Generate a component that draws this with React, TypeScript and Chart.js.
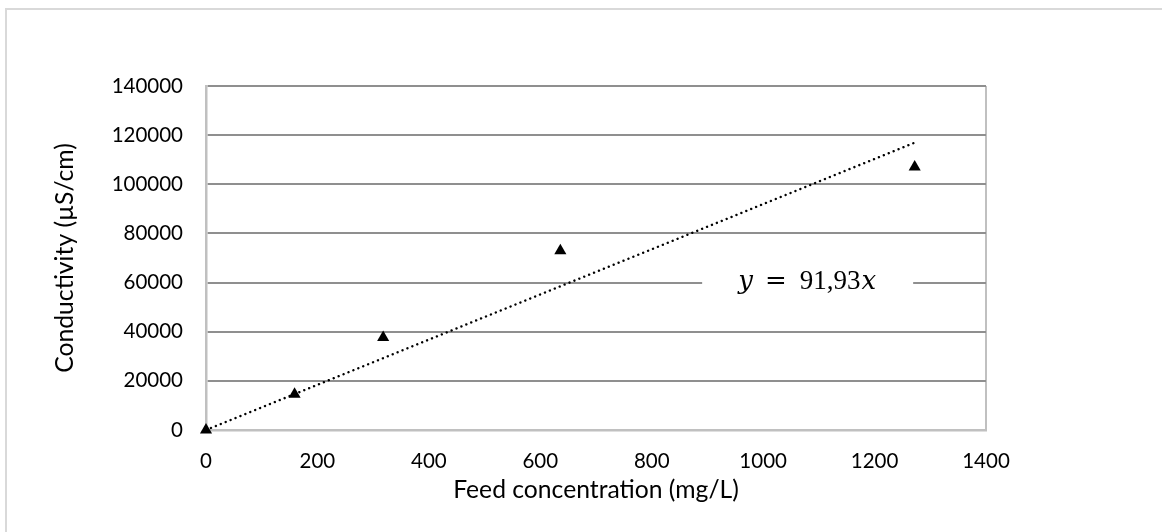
import React, { useEffect, useRef } from "react";
import { Chart, registerables } from "chart.js";

Chart.register(...registerables);

// Measured feed concentration (mg/L) and conductivity (µS/cm)
const feedConcentration = [0, 159, 318, 636, 1272];
const conductivity = [0, 14500, 37600, 73000, 107000];

// Linear fit through the origin, y = slope * x
const TREND_SLOPE = 91.93;
const trendX = [0, 1272];

// Axis ranges and tick spacing
const X_MIN = 0;
const X_MAX = 1400;
const X_STEP = 200;
const Y_MIN = 0;
const Y_MAX = 140000;
const Y_STEP = 20000;

// Where the fit equation sits, in data units
const EQ_ANCHOR_X = 1079;
const EQ_ANCHOR_Y = 60000;

const WIDTH = 1162;
const HEIGHT = 532;
const FONT = "Lato";

const formatSlope = (v: number) => v.toFixed(2).replace(".", ",");

const backgroundPlugin = {
  id: "pageFrame",
  beforeDraw(chart: any) {
    const { ctx } = chart;
    ctx.save();
    ctx.fillStyle = "#ffffff";
    ctx.fillRect(0, 0, chart.width, chart.height);
    ctx.strokeStyle = "#d9d9d9";
    ctx.lineWidth = 2;
    ctx.strokeRect(6, 9, chart.width + 10, chart.height + 10);
    ctx.restore();
  },
};

const equationPlugin = {
  id: "fitEquation",
  afterDatasetsDraw(chart: any) {
    const { ctx, scales } = chart;
    const cx = scales.x.getPixelForValue(EQ_ANCHOR_X);
    const cy = scales.y.getPixelForValue(EQ_ANCHOR_Y);
    const parts = [
      { text: "y", font: "italic 26px 'DejaVu Serif'", gap: 12 },
      { text: "=", font: "26px 'DejaVu Serif'", gap: 13 },
      { text: formatSlope(TREND_SLOPE), font: "27px 'Liberation Serif'", gap: 1 },
      { text: "x", font: "italic 26px 'DejaVu Serif'", gap: 0 },
    ];
    ctx.save();
    let total = 0;
    const widths = parts.map((p) => {
      ctx.font = p.font;
      const w = ctx.measureText(p.text).width;
      total += w + p.gap;
      return w;
    });
    ctx.fillStyle = "#ffffff";
    ctx.fillRect(cx - 105, cy - 18, 211, 36);
    let x = cx - total / 2;
    const baseline = cy + 6;
    ctx.fillStyle = "#000000";
    ctx.textBaseline = "alphabetic";
    ctx.textAlign = "left";
    parts.forEach((p, i) => {
      ctx.font = p.font;
      ctx.fillText(p.text, x, baseline);
      x += widths[i] + p.gap;
    });
    ctx.restore();
  },
};

export default function App() {
  const canvasRef = useRef<HTMLCanvasElement | null>(null);

  useEffect(() => {
    const canvas = canvasRef.current;
    if (!canvas) return;

    const points = feedConcentration.map((x, i) => ({ x, y: conductivity[i] }));
    const trend = trendX.map((x) => ({ x, y: TREND_SLOPE * x }));

    const tickFont = { family: FONT, size: 20.5 };
    const titleFont = { family: FONT, size: 24.7 };
    const plain = (v: any) => String(v);

    const chart = new Chart(canvas, {
      type: "scatter",
      data: {
        datasets: [
          {
            label: "Conductivity",
            data: points,
            pointStyle: "triangle",
            pointRadius: 7,
            pointHoverRadius: 7,
            backgroundColor: "#000000",
            borderColor: "#000000",
            borderWidth: 0,
            clip: false,
            order: 1,
          },
          {
            label: "Linear fit",
            data: trend,
            showLine: true,
            pointRadius: 0,
            borderColor: "#000000",
            borderWidth: 2.4,
            borderDash: [0.1, 5.2],
            borderCapStyle: "round",
            fill: false,
            clip: false,
            order: 2,
          },
        ],
      },
      options: {
        responsive: false,
        animation: false,
        layout: { padding: { left: 0, top: 86, right: WIDTH - 986, bottom: 0 } },
        plugins: {
          legend: { display: false },
          tooltip: { enabled: false },
        },
        scales: {
          x: {
            type: "linear",
            min: X_MIN,
            max: X_MAX,
            afterFit: (axis: any) => {
              axis.height = 102;
            },
            ticks: {
              stepSize: X_STEP,
              padding: 19,
              color: "#000000",
              font: tickFont,
              maxRotation: 0,
              callback: plain,
            },
            grid: {
              drawTicks: false,
              lineWidth: 2,
              color: (c: any) => (c.tick && c.tick.value === X_MAX ? "#c0c0c0" : "rgba(0,0,0,0)"),
            },
            border: { display: true, color: "#c0c0c0", width: 2.5 },
            title: {
              display: true,
              text: "Feed concentration (mg/L)",
              color: "#000000",
              font: titleFont,
              padding: { top: 0, bottom: 27 },
            },
          },
          y: {
            type: "linear",
            min: Y_MIN,
            max: Y_MAX,
            afterFit: (axis: any) => {
              axis.width = 206;
            },
            ticks: {
              stepSize: Y_STEP,
              padding: 23,
              color: "#000000",
              font: tickFont,
              callback: plain,
            },
            grid: {
              drawTicks: false,
              lineWidth: 2,
              color: (c: any) => (c.tick && c.tick.value === Y_MIN ? "rgba(0,0,0,0)" : "#8f8f8f"),
            },
            border: { display: true, color: "#c0c0c0", width: 2.5 },
            title: {
              display: true,
              text: "Conductivity (µS/cm)",
              color: "#000000",
              font: titleFont,
              padding: { top: 50, bottom: 0 },
            },
          },
        },
      },
      plugins: [backgroundPlugin, equationPlugin],
    });

    return () => chart.destroy();
  }, []);

  return (
    <div style={{ position: "absolute", left: 0, top: 0, width: WIDTH, height: HEIGHT }}>
      <canvas ref={canvasRef} width={WIDTH} height={HEIGHT} style={{ display: "block" }} />
    </div>
  );
}
